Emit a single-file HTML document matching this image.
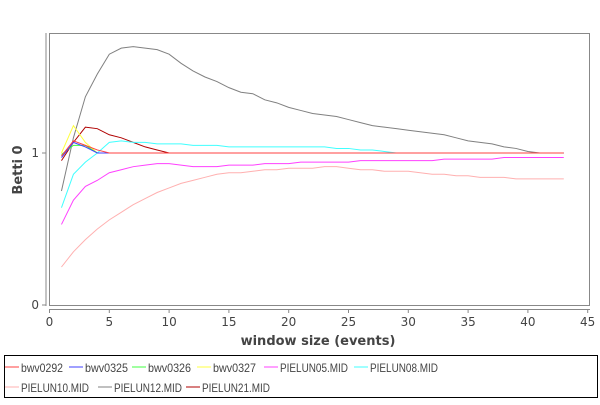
<!DOCTYPE html>
<html><head><meta charset="utf-8"><style>
body{margin:0;background:#fff;width:600px;height:400px;overflow:hidden;font-family:"Liberation Sans","DejaVu Sans",sans-serif}
</style></head><body>
<svg id="c" width="600" height="400" xmlns="http://www.w3.org/2000/svg" style="font-family:'DejaVu Sans','Liberation Sans',sans-serif">
<rect x="49.5" y="33.5" width="540" height="272" fill="#fff" stroke="#888" stroke-width="1"/>
<line x1="46" y1="33" x2="46" y2="306" stroke="#888"/>
<line x1="49" y1="309.5" x2="590" y2="309.5" stroke="#888"/>
<g id="ticks"></g>
<g id="series"></g>
<text x="318" y="345" text-anchor="middle" font-size="13" font-weight="bold" fill="#444">window size (events)</text>
<text transform="translate(22,170) rotate(-90)" text-anchor="middle" font-size="13" font-weight="bold" fill="#444">Betti 0</text>
<rect x="4.5" y="355.5" width="593" height="42" fill="#fff" stroke="#000"/>
<g id="legend" font-size="12" fill="#444" style="font-family:'Liberation Sans',sans-serif"></g>
</svg>
<script>
const xTicks=[0,5,10,15,20,25,30,35,40,45];
const yTicks=[0,1];
const names=["bwv0292","bwv0325","bwv0326","bwv0327","PIELUN05.MID","PIELUN08.MID","PIELUN10.MID","PIELUN12.MID","PIELUN21.MID"];
const colors=["#ff4040","#4040ff","#40ff40","#ffff40","#ff40ff","#40ffff","#ffb0b0","#808080","#b00000"];
const ones=n=>Array(n).fill(1);
const sBwv0292=[0.98,1.08,1.05,1.02].concat(ones(39));
const sBwv0325=[0.97,1.07,1.04,1.0].concat(ones(39));
const sBwv0326=[0.99,1.05,1.05,1.0].concat(ones(39));
const sBwv0327=[1.0,1.18,1.07,1.0].concat(ones(39));
const sP05=[0.53,0.69,0.78,0.82,0.87,0.89,0.91,0.92,0.93,0.93,0.92,0.91,0.91,0.91,0.92,0.92,0.92,0.93,0.93,0.93,0.94,0.94,0.94,0.94,0.94,0.95,0.95,0.95,0.95,0.95,0.95,0.95,0.96,0.96,0.96,0.96,0.96,0.97,0.97,0.97,0.97,0.97,0.97];
const sP08=[0.64,0.86,0.94,1.0,1.07,1.08,1.07,1.07,1.06,1.06,1.06,1.05,1.05,1.05,1.04,1.04,1.04,1.04,1.04,1.04,1.04,1.04,1.04,1.03,1.03,1.02,1.02,1.01,1.0,1,1,1,1,1,1,1,1,1,1,1,1,1,1];
const sP10=[0.25,0.35,0.43,0.50,0.56,0.61,0.66,0.70,0.74,0.77,0.80,0.82,0.84,0.86,0.87,0.87,0.88,0.89,0.89,0.90,0.90,0.90,0.91,0.91,0.90,0.89,0.89,0.88,0.88,0.88,0.87,0.86,0.86,0.85,0.85,0.84,0.84,0.84,0.83,0.83,0.83,0.83,0.83];
const sP12=[0.75,1.1,1.37,1.52,1.65,1.69,1.70,1.69,1.68,1.65,1.59,1.54,1.50,1.47,1.43,1.40,1.39,1.35,1.33,1.30,1.28,1.26,1.25,1.24,1.22,1.20,1.18,1.17,1.16,1.15,1.14,1.13,1.12,1.10,1.08,1.07,1.06,1.04,1.03,1.01,1.0,1.0,1.0];
const sP21=[0.95,1.07,1.17,1.16,1.12,1.10,1.07,1.04,1.02,1.0].concat(ones(33));
const allSeries=[sBwv0292,sBwv0325,sBwv0326,sBwv0327,sP05,sP08,sP10,sP12,sP21];
const NS="http://www.w3.org/2000/svg";
const X=v=>49.5+v*11.96;
const Y=v=>305-v*152;
const tg=document.getElementById('ticks');
function mk(t,a,p){const e=document.createElementNS(NS,t);for(const k in a)e.setAttribute(k,a[k]);p.appendChild(e);return e;}
xTicks.forEach(v=>{
 const l=mk('line',{x1:X(v),x2:X(v),y1:310,y2:313,stroke:'#888'},tg);
 
 
 const t=mk('text',{x:X(v),y:326,'text-anchor':'middle','font-size':12,fill:'#444'},tg);t.textContent=v;
 
 
});
yTicks.forEach(v=>{
 const l=mk('line',{x1:42,x2:46,y1:Y(v),y2:Y(v),stroke:'#888'},tg);
 
 
 const t=mk('text',{x:39,y:Y(v)+4,'text-anchor':'end','font-size':12,fill:'#444'},tg);t.textContent=v;
 
 
});
const sg=document.getElementById('series');
for(let i=allSeries.length-1;i>=0;i--){
 const s=allSeries[i];
 const p=mk('polyline',{points:s.map((v,j)=>X(j+1)+','+Y(v)).join(' '),fill:'none',stroke:colors[i],'stroke-width':1},sg);
 
 
}
const lg=document.getElementById('legend');
const pos=[[5,372,42],[69,372,43],[132,372,43],[197,372,43],[264,372,68],[354,372,68],[5,392,68],[98,392,68],[186,392,68]];
names.forEach((n,i)=>{
 const [x,y,w]=pos[i];
 const l=mk('line',{x1:x,x2:x+14,y1:y-5,y2:y-5,stroke:colors[i]},lg);
 
 
 const t=mk('text',{x:x+16,y:y,textLength:w,lengthAdjust:'spacingAndGlyphs'},lg);t.textContent=n;
 
 
});
</script>
</body></html>
